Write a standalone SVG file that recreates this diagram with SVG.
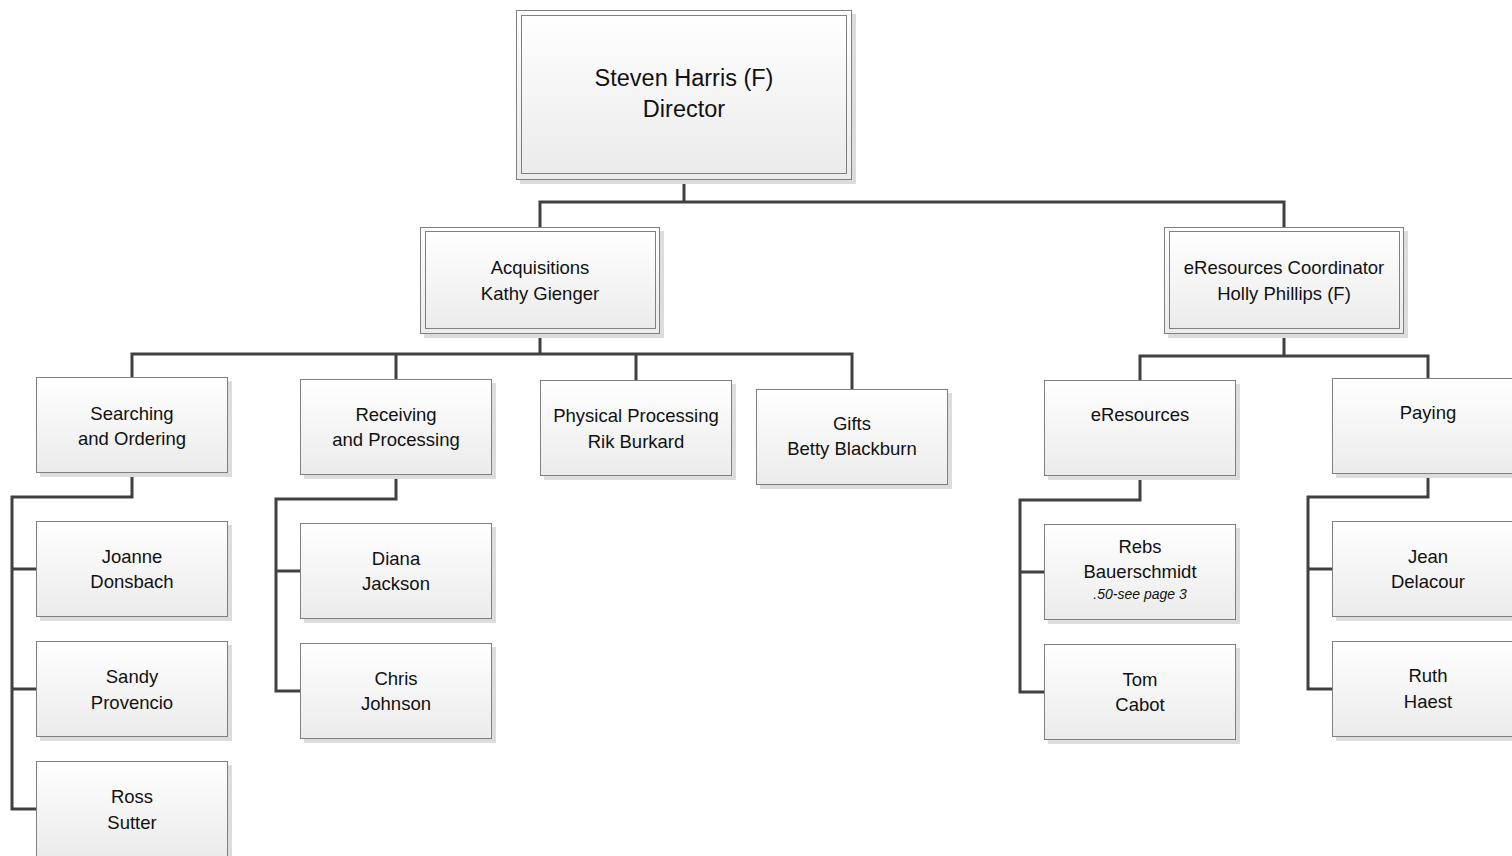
<svg xmlns="http://www.w3.org/2000/svg" width="1512" height="856" viewBox="0 0 1512 856">
<defs>
<linearGradient id="g" x1="0" y1="0" x2="0" y2="1">
<stop offset="0" stop-color="#ffffff"/>
<stop offset="1" stop-color="#ebebeb"/>
</linearGradient>
</defs>
<style>
.sh{fill:#dcdcdc;}
.bx{fill:url(#g);stroke:#7f7f7f;stroke-width:1;}
.in{fill:url(#g);stroke:#7f7f7f;stroke-width:1;}
.ln{fill:none;stroke:#404040;stroke-width:3;stroke-linejoin:miter;}
text{font-family:"Liberation Sans",Arial,sans-serif;font-size:18.5px;fill:#111;text-anchor:middle;}
.big{font-size:23.5px;}
.it{font-size:14px;font-style:italic;}
</style>
<rect width="1512" height="856" fill="#ffffff"/>
<g id="connectors">
<path class="ln" d="M684,180V202M540,227V202H1284V227"/>
<path class="ln" d="M540,334V354M132,377V354H852V389M396,379V354M636,380V354"/>
<path class="ln" d="M1284,334V356M1140,380V356H1428V378"/>
<path class="ln" d="M132,473V497H12V809H36M12,569H36M12,689H36"/>
<path class="ln" d="M396,475V499H276V691H300M276,571H300"/>
<path class="ln" d="M1140,476V500H1020V692H1044M1020,572H1044"/>
<path class="ln" d="M1428,474V497H1308V689H1332M1308,569H1332"/>
</g>
<g id="director">
<rect class="sh" x="520" y="14" width="336" height="170"/>
<rect class="bx" x="516.5" y="10.5" width="335" height="169"/>
<rect class="in" x="521.5" y="15.5" width="325" height="158"/>
<text class="big" x="684" y="86">Steven Harris (F)</text>
<text class="big" x="684" y="117">Director</text>
</g>
<g id="acquisitions">
<rect class="sh" x="424" y="231" width="240" height="107"/>
<rect class="bx" x="420.5" y="227.5" width="239" height="106"/>
<rect class="in" x="425.5" y="231.5" width="230" height="97"/>
<text x="540" y="274">Acquisitions</text>
<text x="540" y="300">Kathy Gienger</text>
</g>
<g id="coordinator">
<rect class="sh" x="1168" y="231" width="240" height="107"/>
<rect class="bx" x="1164.5" y="227.5" width="239" height="106"/>
<rect class="in" x="1169.5" y="231.5" width="230" height="97"/>
<text x="1284" y="274">eResources Coordinator</text>
<text x="1284" y="300">Holly Phillips (F)</text>
</g>
<g id="searching">
<rect class="sh" x="40" y="381" width="192" height="96"/>
<rect class="bx" x="36.5" y="377.5" width="191" height="95"/>
<text x="132" y="419.5">Searching</text>
<text x="132" y="445">and Ordering</text>
</g>
<g id="receiving">
<rect class="sh" x="304" y="383" width="192" height="96"/>
<rect class="bx" x="300.5" y="379.5" width="191" height="95"/>
<text x="396" y="420.5">Receiving</text>
<text x="396" y="446">and Processing</text>
</g>
<g id="physical">
<rect class="sh" x="544" y="384" width="192" height="96"/>
<rect class="bx" x="540.5" y="380.5" width="191" height="95"/>
<text x="636" y="422">Physical Processing</text>
<text x="636" y="447.5">Rik Burkard</text>
</g>
<g id="gifts">
<rect class="sh" x="760" y="393" width="192" height="96"/>
<rect class="bx" x="756.5" y="389.5" width="191" height="95"/>
<text x="852" y="430">Gifts</text>
<text x="852" y="455">Betty Blackburn</text>
</g>
<g id="eresources">
<rect class="sh" x="1048" y="384" width="192" height="96"/>
<rect class="bx" x="1044.5" y="380.5" width="191" height="95"/>
<text x="1140" y="421">eResources</text>
</g>
<g id="paying">
<rect class="sh" x="1336" y="382" width="192" height="96"/>
<rect class="bx" x="1332.5" y="378.5" width="191" height="95"/>
<text x="1428" y="419">Paying</text>
</g>
<g id="joanne">
<rect class="sh" x="40" y="525" width="192" height="96"/>
<rect class="bx" x="36.5" y="521.5" width="191" height="95"/>
<text x="132" y="562.5">Joanne</text>
<text x="132" y="588">Donsbach</text>
</g>
<g id="sandy">
<rect class="sh" x="40" y="645" width="192" height="96"/>
<rect class="bx" x="36.5" y="641.5" width="191" height="95"/>
<text x="132" y="683">Sandy</text>
<text x="132" y="708.5">Provencio</text>
</g>
<g id="ross">
<rect class="sh" x="40" y="765" width="192" height="96"/>
<rect class="bx" x="36.5" y="761.5" width="191" height="95"/>
<text x="132" y="803">Ross</text>
<text x="132" y="828.5">Sutter</text>
</g>
<g id="diana">
<rect class="sh" x="304" y="527" width="192" height="96"/>
<rect class="bx" x="300.5" y="523.5" width="191" height="95"/>
<text x="396" y="564.5">Diana</text>
<text x="396" y="590">Jackson</text>
</g>
<g id="chris">
<rect class="sh" x="304" y="647" width="192" height="96"/>
<rect class="bx" x="300.5" y="643.5" width="191" height="95"/>
<text x="396" y="684.5">Chris</text>
<text x="396" y="710">Johnson</text>
</g>
<g id="rebs">
<rect class="sh" x="1048" y="528" width="192" height="96"/>
<rect class="bx" x="1044.5" y="524.5" width="191" height="95"/>
<text x="1140" y="553">Rebs</text>
<text x="1140" y="577.5">Bauerschmidt</text>
<text class="it" x="1140" y="599">.50-see page 3</text>
</g>
<g id="tom">
<rect class="sh" x="1048" y="648" width="192" height="96"/>
<rect class="bx" x="1044.5" y="644.5" width="191" height="95"/>
<text x="1140" y="686">Tom</text>
<text x="1140" y="711">Cabot</text>
</g>
<g id="jean">
<rect class="sh" x="1336" y="525" width="192" height="96"/>
<rect class="bx" x="1332.5" y="521.5" width="191" height="95"/>
<text x="1428" y="562.5">Jean</text>
<text x="1428" y="588">Delacour</text>
</g>
<g id="ruth">
<rect class="sh" x="1336" y="645" width="192" height="96"/>
<rect class="bx" x="1332.5" y="641.5" width="191" height="95"/>
<text x="1428" y="682">Ruth</text>
<text x="1428" y="708">Haest</text>
</g>
</svg>
